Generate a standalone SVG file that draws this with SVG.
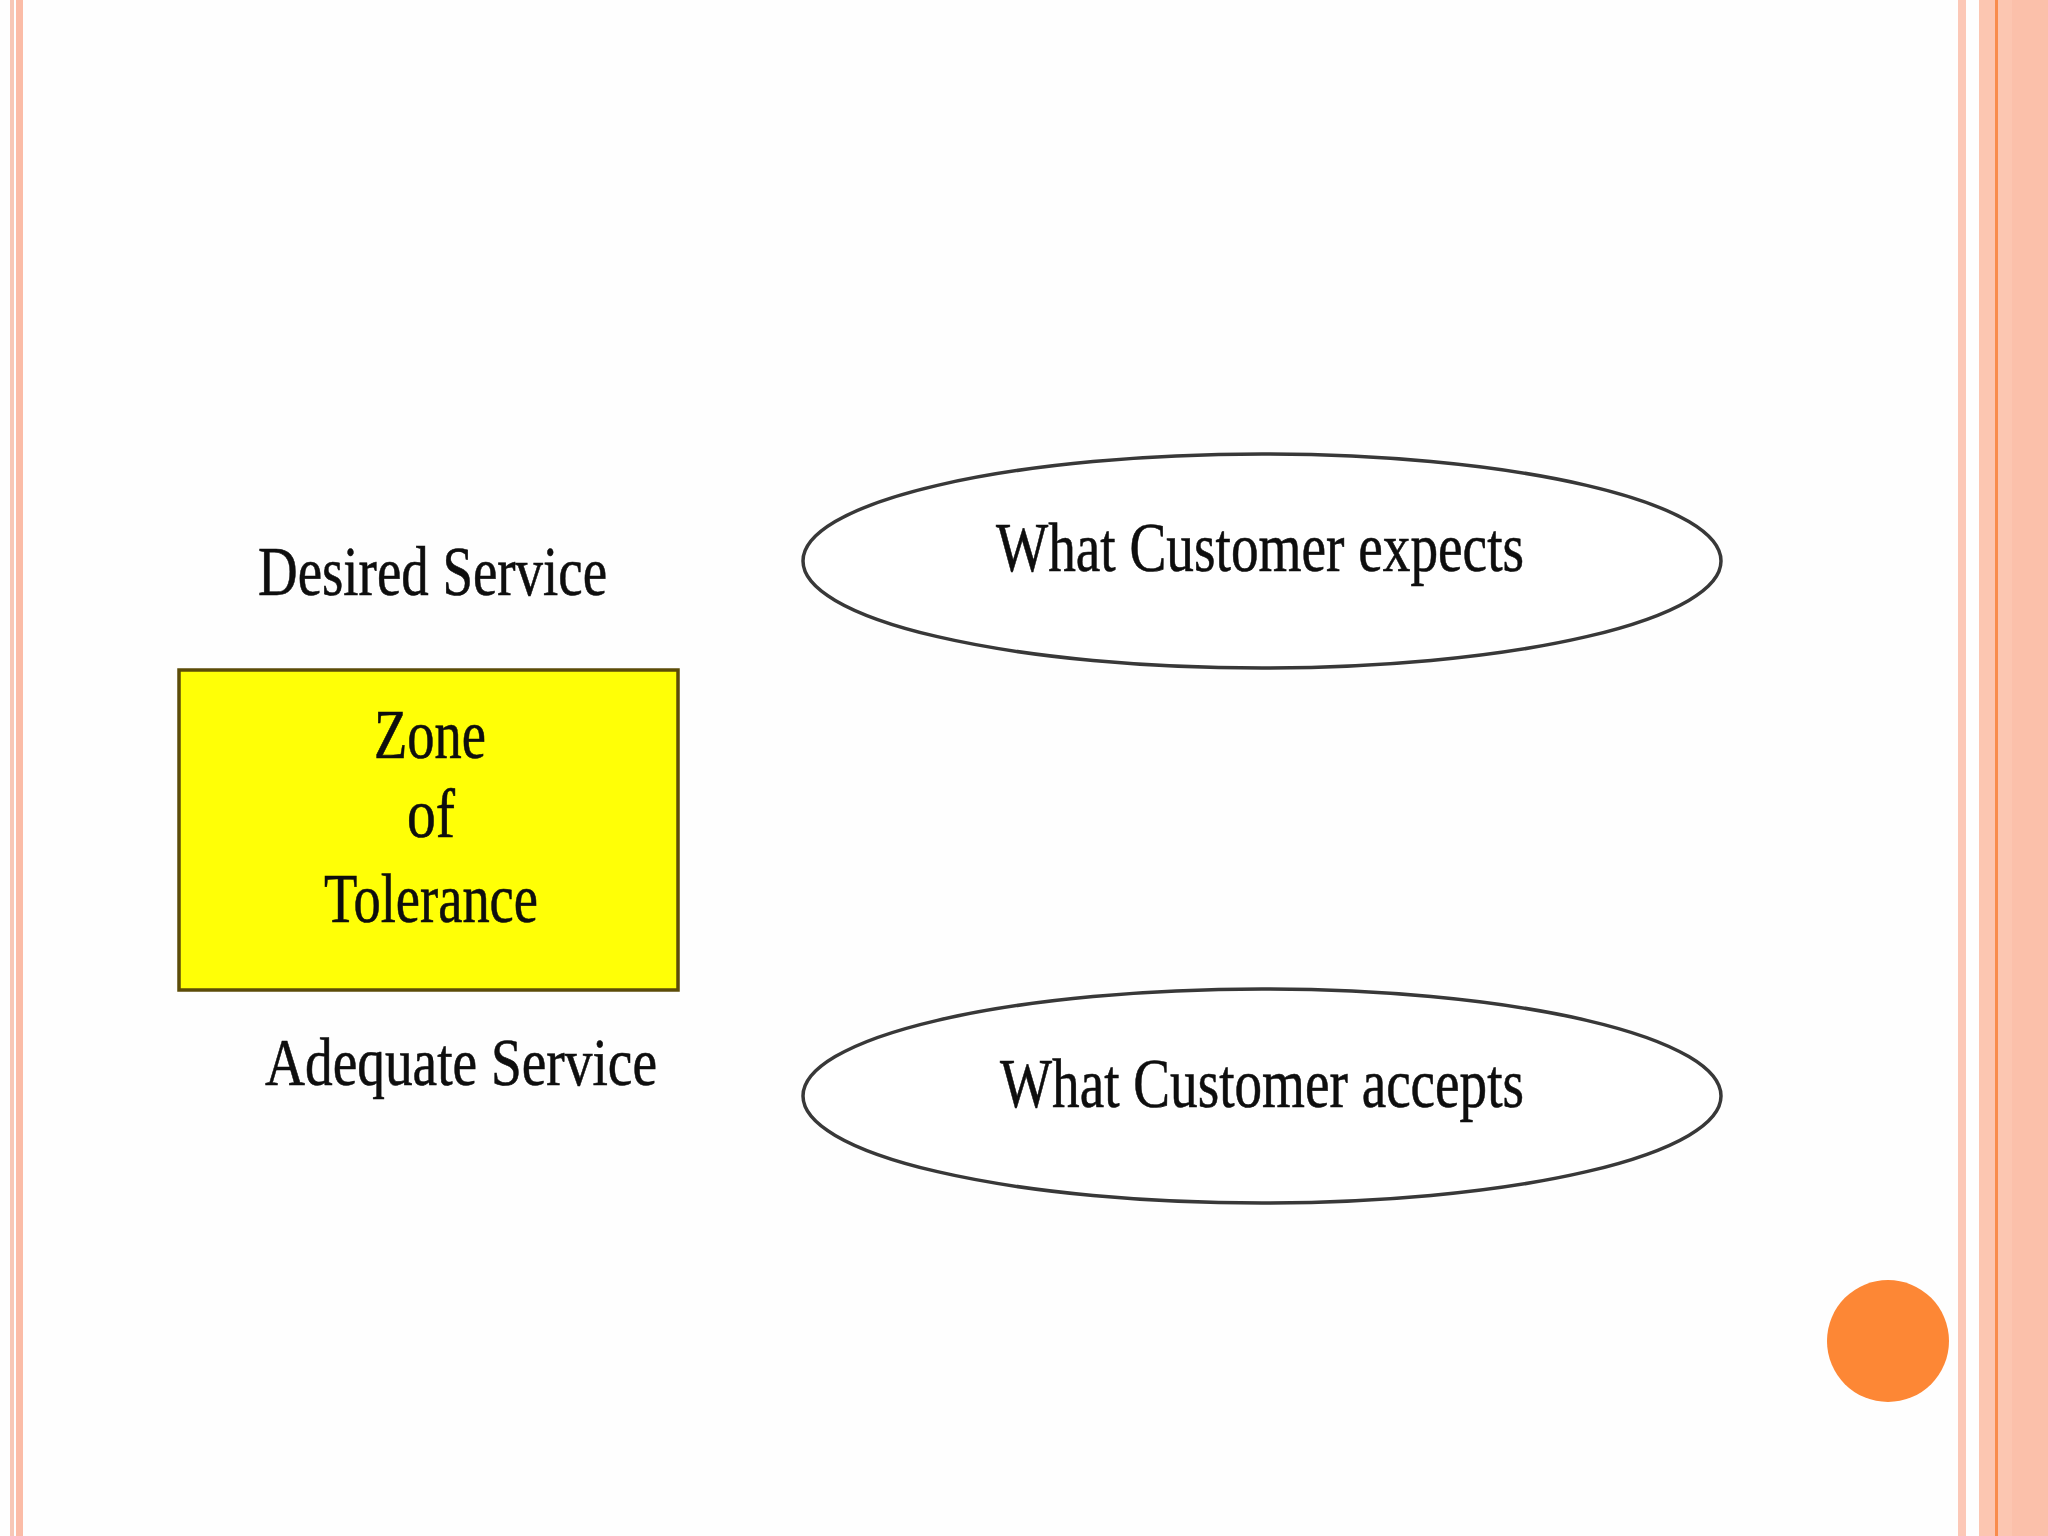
<svg xmlns="http://www.w3.org/2000/svg" width="2048" height="1536" viewBox="0 0 2048 1536">
  <style>
    .lbl { font-family: "Liberation Serif", "DejaVu Serif", serif; fill: #0e0e0e; stroke: #0e0e0e; stroke-width: 0.6; }
    .oval { fill: #ffffff; stroke: #383838; stroke-width: 3.5; }
  </style>
  <rect x="0" y="0" width="2048" height="1536" fill="#fefefe"/>
  <g id="frame">
    <rect x="10" y="0" width="4" height="1536" fill="#f7c7b6"/>
    <rect x="16" y="0" width="7" height="1536" fill="#fbbca7"/>
    <rect x="1958" y="0" width="8" height="1536" fill="#fcc8b7"/>
    <rect x="1979" y="0" width="69" height="1536" fill="#fcc6b1"/>
    <rect x="2012" y="0" width="36" height="1536" fill="#fbc0aa"/>
    <rect x="1995" y="0" width="3" height="1536" fill="#f98c4c"/>
  </g>
  <g id="desired-service">
    <text class="lbl" x="258" y="595" font-size="70" textLength="349" lengthAdjust="spacingAndGlyphs">Desired Service</text>
  </g>
  <g id="zone-of-tolerance">
    <rect x="179" y="670" width="499" height="320" fill="#ffff06" stroke="#5c4c08" stroke-width="3.5"/>
    <text class="lbl" x="430" y="758" font-size="70" text-anchor="middle" textLength="112" lengthAdjust="spacingAndGlyphs">Zone</text>
    <text class="lbl" x="431" y="837" font-size="70" text-anchor="middle" textLength="48" lengthAdjust="spacingAndGlyphs">of</text>
    <text class="lbl" x="431" y="922" font-size="70" text-anchor="middle" textLength="214" lengthAdjust="spacingAndGlyphs">Tolerance</text>
  </g>
  <g id="adequate-service">
    <text class="lbl" x="265" y="1085" font-size="68" textLength="392" lengthAdjust="spacingAndGlyphs">Adequate Service</text>
  </g>
  <g id="what-customer-expects">
    <ellipse class="oval" cx="1262" cy="561" rx="459" ry="107"/>
    <text class="lbl" x="996" y="571" font-size="70" textLength="528" lengthAdjust="spacingAndGlyphs">What Customer expects</text>
  </g>
  <g id="what-customer-accepts">
    <ellipse class="oval" cx="1262" cy="1096" rx="459" ry="107"/>
    <text class="lbl" x="1000" y="1107" font-size="70" textLength="524" lengthAdjust="spacingAndGlyphs">What Customer accepts</text>
  </g>
  <g id="connectors"/>
  <g id="badge">
    <circle cx="1888" cy="1341" r="61" fill="#fd8735"/>
  </g>
</svg>
